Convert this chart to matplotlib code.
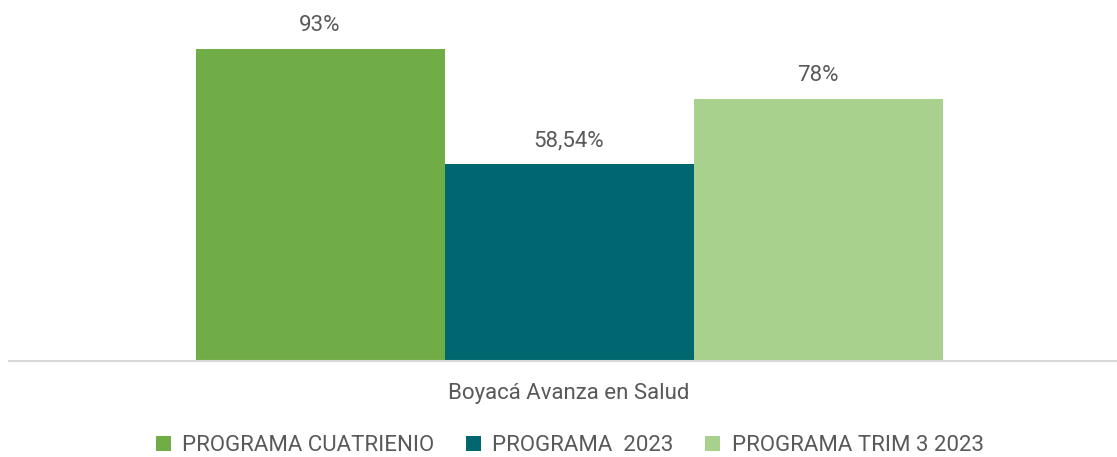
import matplotlib.pyplot as plt
from matplotlib.patches import Patch

plt.rcParams["font.family"] = ["Roboto", "DejaVu Sans"]

category = "Boyacá Avanza en Salud"
series = ["PROGRAMA CUATRIENIO", "PROGRAMA  2023", "PROGRAMA TRIM 3 2023"]
values = [93, 58.54, 78]
value_labels = ["93%", "58,54%", "78%"]
colors = ["#70AD47", "#00666F", "#A9D18E"]

text_color = "#595959"

fig = plt.figure(figsize=(11.17, 4.57), dpi=100)
ax = fig.add_axes([9 / 1117, 1 - 361 / 457, 1 - 9 / 1117, 336 / 457])

positions = [-1, 0, 1]
bars = ax.bar(positions, values, width=1.0, color=colors)

for b, lab in zip(bars, value_labels):
    ax.annotate(lab, (b.get_x() + b.get_width() / 2, b.get_height()),
                xytext=(0, 9), textcoords="offset points",
                ha="center", va="bottom", fontsize=16, color=text_color)

ax.set_xlim(-(569 - 9) / 249, (1117 - 569) / 249)
ax.set_ylim(0, 100)
ax.set_xticks([0])
ax.set_xticklabels([category], fontsize=16, color=text_color)
ax.tick_params(axis="x", length=0, pad=16)
ax.set_yticks([])
for s in ["top", "right", "left"]:
    ax.spines[s].set_visible(False)
ax.spines["bottom"].set_color("#D9D9D9")
ax.spines["bottom"].set_linewidth(1.5)

handles = [Patch(facecolor=c, edgecolor="none") for c in colors]
fig.legend(handles, series, loc="lower center", bbox_to_anchor=(0.51, -0.028),
           ncol=3, frameon=False, fontsize=16, handlelength=0.7,
           handleheight=0.7, handletextpad=0.5, columnspacing=1.4,
           labelcolor=text_color, borderpad=0.1)

fig.savefig("out.png", dpi=100)
